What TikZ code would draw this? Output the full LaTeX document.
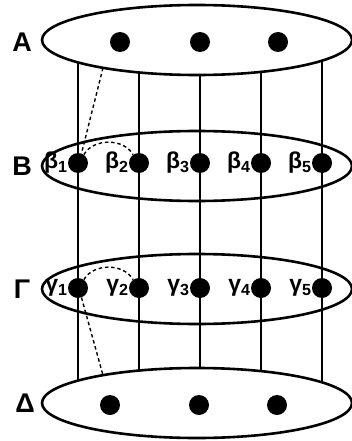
\documentclass[tikz,border=0pt]{standalone}
\usepackage{fontspec}
\setmainfont{Liberation Sans}
\usetikzlibrary{shapes.geometric}
\begin{document}
\begin{tikzpicture}[x=1pt,y=-1pt,
  ell/.style={draw, ellipse, line width=2.6pt, minimum width=310pt, minimum height=70pt, inner sep=0pt},
  dot/.style={circle, fill, inner sep=0pt, minimum size=20pt},
  col/.style={line width=1.4pt},
  dsh/.style={line width=1.4pt, dash pattern=on 3.5pt off 2.8pt},
  laylabel/.style={font=\fontsize{27}{27}\selectfont\bfseries, inner sep=0pt},
  gl/.style={font=\fontsize{23}{23}\selectfont\bfseries, inner sep=0pt, anchor=east}]
\useasboundingbox (0,0) rectangle (352,441);
% layers (ellipses)
\node[ell] (A) at (197,40) {};
\node[ell] (B) at (197,166) {};
\node[ell] (G) at (197,289) {};
\node[ell] (D) at (197,403) {};
% layer labels
\node[laylabel] (lA) at (22,42) {A};
\node[laylabel] (lB) at (22,166) {B};
\node[laylabel] (lG) at (22,289) {Γ};
\node[laylabel] (lD) at (25,403) {Δ};
% dots of A and Delta
\node[dot] (a1) at (120,42) {};
\node[dot] (a2) at (200,42) {};
\node[dot] (a3) at (278,42) {};
\node[dot] (e1) at (110,405) {};
\node[dot] (e2) at (199,405) {};
\node[dot] (e3) at (277,405) {};
% column end points on the A and Delta ellipses
\coordinate (t1) at (78,62.4);
\coordinate (t2) at (139,72.4);
\coordinate (t3) at (200,75);
\coordinate (t4) at (261,71.9);
\coordinate (t5) at (322,60.7);
\coordinate (u1) at (78,380.6);
\coordinate (u2) at (139,370.6);
\coordinate (u3) at (200,368);
\coordinate (u4) at (261,371.1);
\coordinate (u5) at (322,382.3);
\foreach \i/\x in {1/78,2/139,3/200,4/261,5/322}{
  \node[dot] (b\i) at (\x,163) {};
  \node[dot] (g\i) at (\x,288) {};
  \node[gl] (lb\i) at (b\i.west) {β\textsubscript{\i}};
  \node[gl] (lg\i) at (g\i.west) {γ\textsubscript{\i}};
  \draw[col] (t\i) -- (b\i) -- (g\i) -- (u\i);
}
% dashed links
\coordinate (da) at (103,67.8);
\coordinate (dd) at (103,375.2);
\draw[dsh] (da) -- (b1.70);
\draw[dsh] (b1.55) to[out=60,in=120] (b2.125);
\draw[dsh] (g1.55) to[out=60,in=120] (g2.125);
\draw[dsh] (g1.-70) -- (dd);
\end{tikzpicture}
\end{document}
